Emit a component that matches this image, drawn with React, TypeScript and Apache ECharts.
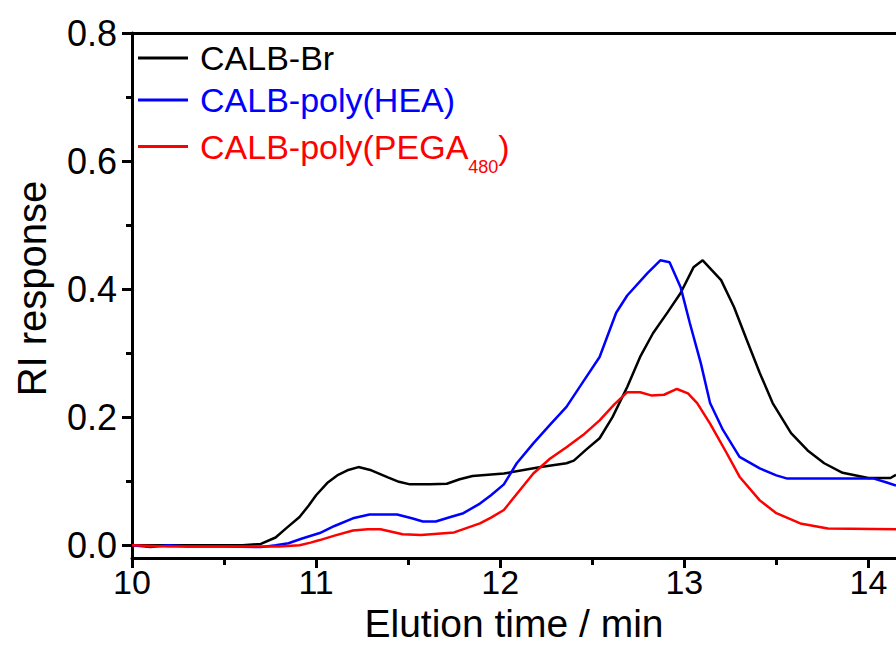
import React, { useEffect, useRef } from "react";
import * as echarts from "echarts";

// CALB-Br (black)
const brX = [10.0, 10.3, 10.6, 10.7, 10.78, 10.84, 10.91, 10.96, 11.0, 11.06, 11.12, 11.17, 11.23, 11.3, 11.39, 11.45, 11.51, 11.62, 11.71, 11.78, 11.85, 12.02, 12.22, 12.36, 12.4, 12.47, 12.54, 12.61, 12.69, 12.76, 12.83, 12.91, 12.98, 13.05, 13.1, 13.2, 13.27, 13.34, 13.41, 13.48, 13.58, 13.67, 13.76, 13.86, 14.0, 14.12, 14.15];
const brY = [0, 0, 0, 0.002, 0.012, 0.027, 0.044, 0.062, 0.078, 0.097, 0.11, 0.117, 0.122, 0.117, 0.106, 0.099, 0.095, 0.095, 0.096, 0.103, 0.108, 0.112, 0.122, 0.128, 0.132, 0.15, 0.167, 0.2, 0.247, 0.294, 0.331, 0.364, 0.394, 0.434, 0.445, 0.414, 0.372, 0.32, 0.269, 0.222, 0.175, 0.148, 0.128, 0.113, 0.105, 0.105, 0.11];

// CALB-poly(HEA) (blue)
const heaX = [10.0, 10.1, 10.2, 10.3, 10.5, 10.7, 10.78, 10.85, 10.92, 11.02, 11.1, 11.2, 11.29, 11.44, 11.52, 11.58, 11.65, 11.73, 11.8, 11.89, 11.95, 12.02, 12.09, 12.18, 12.27, 12.36, 12.45, 12.54, 12.63, 12.69, 12.8, 12.87, 12.92, 12.98, 13.03, 13.09, 13.14, 13.21, 13.3, 13.41, 13.5, 13.56, 14.03, 14.1, 14.15];
const heaY = [0, -0.003, 0, -0.002, -0.002, -0.003, 0, 0.003, 0.01, 0.019, 0.03, 0.042, 0.048, 0.048, 0.042, 0.037, 0.037, 0.044, 0.05, 0.065, 0.078, 0.095, 0.128, 0.159, 0.188, 0.216, 0.255, 0.294, 0.363, 0.39, 0.425, 0.445, 0.442, 0.403, 0.347, 0.284, 0.222, 0.18, 0.138, 0.12, 0.109, 0.104, 0.104, 0.098, 0.093];

// CALB-poly(PEGA480) (red)
const pegX = [10.0, 10.2, 10.4, 10.6, 10.8, 10.91, 10.97, 11.02, 11.1, 11.2, 11.28, 11.35, 11.47, 11.57, 11.75, 11.89, 11.95, 12.02, 12.09, 12.18, 12.27, 12.36, 12.45, 12.54, 12.62, 12.69, 12.76, 12.82, 12.89, 12.96, 13.02, 13.07, 13.14, 13.23, 13.3, 13.41, 13.5, 13.63, 13.78, 14.15];
const pegY = [0, -0.002, -0.002, -0.002, -0.002, 0, 0.004, 0.008, 0.015, 0.023, 0.025, 0.025, 0.017, 0.016, 0.02, 0.034, 0.043, 0.055, 0.08, 0.112, 0.135, 0.153, 0.172, 0.195, 0.22, 0.239, 0.239, 0.234, 0.235, 0.244, 0.237, 0.222, 0.19, 0.144, 0.107, 0.07, 0.05, 0.034, 0.026, 0.025];

const xMajorTicks = [10, 11, 12, 13, 14];
const xMinorTicks = [10.5, 11.5, 12.5, 13.5];
const yMajorTicks = [0, 0.2, 0.4, 0.6, 0.8];
const yMinorTicks = [0.1, 0.3, 0.5, 0.7];

const seriesNames = ["CALB-Br", "CALB-poly(HEA)", "CALB-poly(PEGA480)"];
const seriesColors = ["#000000", "#0000ff", "#ff0000"];

const FONT = 'Arial, "Liberation Sans", Helvetica, sans-serif';
const X_MIN = 10;
const X_MAX = 14.15;
const Y_MIN = -0.02;
const Y_MAX = 0.8;

const pair = (xs: number[], ys: number[]) => xs.map((x, i) => [x, ys[i]]);

export default function App() {
  const ref = useRef<HTMLDivElement>(null);
  useEffect(() => {
    if (!ref.current) return;
    const chart = echarts.init(ref.current, null, { renderer: "svg" });
    const axisLineStyle = { color: "#000", width: 3 };
    const legendBase = {
      orient: "vertical",
      left: 138,
      padding: 0,
      itemWidth: 50,
      itemHeight: 3,
      icon: "rect",
      selectedMode: false,
      textStyle: { fontSize: 34, fontFamily: FONT, padding: [0, 0, 0, 7] },
    };
    chart.setOption({
      animation: false,
      backgroundColor: "#fff",
      textStyle: { fontFamily: FONT },
      grid: { left: 132, top: 33, right: 0, bottom: 88, containLabel: false, outerBoundsMode: "none" },
      legend: [
        {
          ...legendBase,
          top: 41,
          data: [{ name: seriesNames[0], textStyle: { color: seriesColors[0] } }],
        },
        {
          ...legendBase,
          top: 83,
          data: [{ name: seriesNames[1], textStyle: { color: seriesColors[1] } }],
        },
        {
          ...legendBase,
          top: 117,
          data: [{ name: seriesNames[2], textStyle: { color: seriesColors[2] } }],
          formatter: () => "{r|CALB-poly(PEGA}{s|480}{r|)}",
          textStyle: {
            fontSize: 34,
            fontFamily: FONT,
            color: seriesColors[2],
            padding: [0, 0, 0, 7],
            rich: {
              r: { fontSize: 34, fontFamily: FONT, color: seriesColors[2] },
              s: { fontSize: 18, fontFamily: FONT, color: seriesColors[2], lineHeight: 18, padding: [41, 0, 0, 0] },
            },
          },
        },
      ],
      xAxis: [
        {
          type: "value",
          min: X_MIN,
          max: X_MAX,
          position: "bottom",
          axisLine: { show: true, onZero: false, lineStyle: axisLineStyle },
          axisTick: { show: true, customValues: xMajorTicks, length: 10, lineStyle: axisLineStyle },
          axisLabel: { customValues: xMajorTicks, fontSize: 34, color: "#000", margin: 7, fontFamily: FONT },
          splitLine: { show: false },
          name: "Elution time / min",
          nameLocation: "middle",
          nameGap: 46,
          nameMoveOverlap: false,
          nameTextStyle: { fontSize: 39, lineHeight: 39, color: "#000", fontFamily: FONT },
        },
        {
          type: "value",
          min: X_MIN,
          max: X_MAX,
          position: "bottom",
          axisLine: { show: false, onZero: false },
          axisTick: { show: true, customValues: xMinorTicks, length: 7, lineStyle: axisLineStyle },
          axisLabel: { show: false },
          splitLine: { show: false },
        },
        {
          type: "value",
          min: X_MIN,
          max: X_MAX,
          position: "top",
          axisLine: { show: true, onZero: false, lineStyle: axisLineStyle },
          axisTick: { show: false },
          axisLabel: { show: false },
          splitLine: { show: false },
        },
      ],
      yAxis: [
        {
          type: "value",
          min: Y_MIN,
          max: Y_MAX,
          position: "left",
          axisLine: { show: true, onZero: false, lineStyle: axisLineStyle },
          axisTick: { show: true, customValues: yMajorTicks, length: 10, lineStyle: axisLineStyle },
          axisLabel: {
            customValues: yMajorTicks,
            formatter: (v: number) => v.toFixed(1),
            fontSize: 36,
            color: "#000",
            margin: 15,
            fontFamily: FONT,
          },
          splitLine: { show: false },
          name: "RI response",
          nameLocation: "middle",
          nameGap: 80,
          nameRotate: 90,
          nameMoveOverlap: false,
          nameTextStyle: { fontSize: 40, color: "#000", fontFamily: FONT, padding: [0, 0, 0, 14] },
        },
        {
          type: "value",
          min: Y_MIN,
          max: Y_MAX,
          position: "left",
          axisLine: { show: false, onZero: false },
          axisTick: { show: true, customValues: yMinorTicks, length: 6, lineStyle: axisLineStyle },
          axisLabel: { show: false },
          splitLine: { show: false },
        },
      ],
      series: [
        { name: seriesNames[0], data: pair(brX, brY), color: seriesColors[0] },
        { name: seriesNames[1], data: pair(heaX, heaY), color: seriesColors[1] },
        { name: seriesNames[2], data: pair(pegX, pegY), color: seriesColors[2] },
      ].map((s) => ({
        ...s,
        type: "line",
        xAxisIndex: 0,
        yAxisIndex: 0,
        symbol: "none",
        smooth: false,
        clip: true,
        lineStyle: { width: 2.5, color: s.color },
        itemStyle: { color: s.color },
      })),
    });
    return () => chart.dispose();
  }, []);
  return (
    <div
      ref={ref}
      style={{ position: "fixed", left: 0, top: 0, width: 896, height: 646, background: "#fff" }}
    />
  );
}
